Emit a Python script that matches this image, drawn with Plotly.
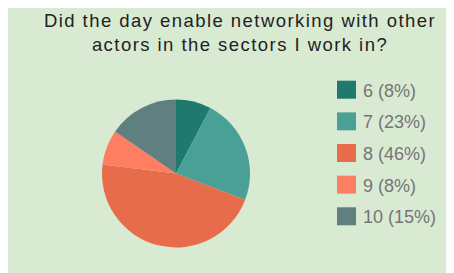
import plotly.graph_objects as go

W, H = 454, 273
OX, OY = 8, 8  # page body margin offset

title_lines = ["Did the day enable networking with other", "actors in the sectors I work in?"]
labels = ["6", "7", "8", "9", "10"]
values = [1, 3, 6, 1, 2]
colors = ["#1f7a6d", "#4aa096", "#e66c4b", "#fd7e60", "#5f7f80"]

total = sum(values)
pct = [round(v / total * 100) for v in values]

def px(x):
    return (x - OX) / W

def py(y):
    return 1 - (y - OY) / H

fig = go.Figure()
fig.add_trace(go.Pie(
    labels=labels,
    values=values,
    sort=False,
    direction="clockwise",
    rotation=0,
    marker=dict(colors=colors, line=dict(width=0)),
    textinfo="none",
    showlegend=False,
    domain=dict(x=[px(102), px(250)], y=[py(248), py(99)]),
))

shapes = []
annotations = []
row0, gap = 89.7, 31.65
for i, (lab, p, c) in enumerate(zip(labels, pct, colors)):
    yc = row0 + i * gap
    shapes.append(dict(type="rect", xref="paper", yref="paper",
                       x0=px(337), x1=px(356), y0=py(yc + 9), y1=py(yc - 9),
                       fillcolor=c, line=dict(width=0)))
    annotations.append(dict(xref="paper", yref="paper", x=px(361), y=py(yc + 1),
                            xanchor="left", yanchor="middle", showarrow=False,
                            text=f"{lab} ({p}%)",
                            font=dict(family="Liberation Sans, Arial", size=18, color="#757575")))

title_text = "<br>".join(f'<span style="letter-spacing:1.45px">{t}</span>' for t in title_lines)

fig.update_layout(
    width=W, height=H,
    margin=dict(l=0, r=0, t=0, b=0),
    paper_bgcolor="#d9ead3",
    plot_bgcolor="rgba(0,0,0,0)",
    title=dict(text=title_text, x=px(240), xanchor="center",
               yref="container", y=1 - 18.5 / H, yanchor="top",
               font=dict(family="Liberation Sans, Arial", size=18.5, color="#222222")),
    shapes=shapes,
    annotations=annotations,
)

fig.write_html("out.html")
